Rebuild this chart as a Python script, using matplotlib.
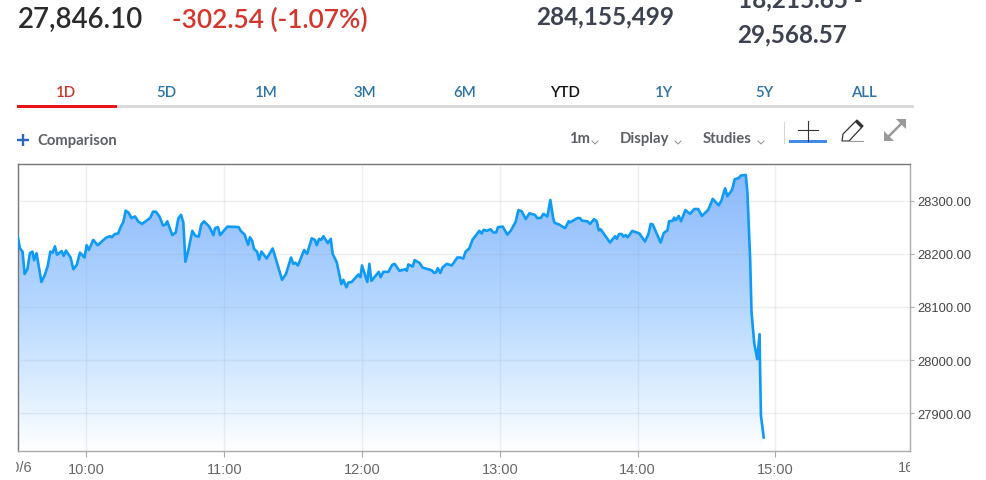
import matplotlib
matplotlib.use('Agg')
import matplotlib.pyplot as plt
import numpy as np
from matplotlib.colors import LinearSegmentedColormap
from matplotlib.patches import Polygon, Rectangle
from matplotlib.transforms import Bbox

# minutes after 09:30
minutes = [0, 1.1, 2.2, 3.1, 4.3, 5.4, 6.5, 7.2, 8.3, 10.4, 11.8, 13.1, 14.3, 15.3, 16.3, 17.2, 19.2, 20.1, 21.1, 23.1,
           24.3, 25.8, 27.2, 29.2, 30.1, 31.0, 33.0, 34.9, 38.5, 40.3, 41.1, 42.3, 43.8, 44.9, 46.1, 47.1, 48.4, 49.6,
           51.2, 52.5, 54.2, 57.7, 59.0, 60.3, 61.8, 63.4, 64.5, 65.2, 67.4, 68.9, 70.0, 71.2, 72.2, 73.1, 74.5, 76.1,
           77.4, 78.9, 80.0, 81.2, 83.5, 85.3, 86.0, 87.3, 88.2, 91.4, 96.3, 97.2, 98.9, 100.4, 101.2, 102.1, 103.0,
           104.3, 105.2, 106.2, 108.5, 111.1, 113.1, 115.2, 116.9, 119.1, 120.1, 121.0, 122.1, 124.8, 126.1, 128.1,
           129.5, 130.3, 131.3, 132.2, 133.2, 135.1, 136.4, 137.2, 139.0, 141.0, 141.9, 143.2, 144.1, 145.5, 148.4,
           149.3, 150.0, 152.3, 153.2, 154.1, 157.3, 158.1, 159.3, 161.5, 163.1, 164.2, 166.3, 168.9, 169.5, 170.2,
           172.1, 172.9, 175.0, 176.4, 180.3, 181.4, 182.2, 183.0, 184.1, 185.0, 186.9, 189.1, 191.5, 192.7, 194.1,
           195.1, 196.7, 198.2, 201.1, 202.1, 203.0, 204.4, 206.0, 207.2, 208.4, 209.2, 211.3, 213.3, 214.7, 216.9,
           218.1, 219.5, 221.3, 222.9, 225.3, 226.3, 227.8, 229.0, 230.7, 232.0, 233.3, 233.9, 235.8, 238.4, 240.0,
           240.6, 243.8, 244.9, 245.8, 248.1, 249.3, 251.0, 252.2, 253.1, 253.9, 258.0, 259.4, 260.2, 260.9, 261.9,
           263.1, 263.8, 264.8, 265.7, 267.7, 269.6, 270.8, 273.2, 274.7, 275.7, 276.6, 280.0, 281.4, 283.0, 283.7,
           285.3, 285.9, 286.6, 287.9, 288.9, 290.8, 292.8, 294.7, 296.4, 298.0, 300.8, 302.7, 305.3, 306.5, 308.1,
           309.1, 311.1, 312.3, 313.9, 315.0, 317.1, 317.8, 319.0, 319.6, 320.8, 322.1, 323.1, 323.3, 323.7, 324.9]
price = [28234, 28210, 28204, 28162, 28171, 28201, 28204, 28188, 28201, 28147, 28159, 28176, 28204, 28202, 28214, 28198,
         28205, 28196, 28206, 28193, 28171, 28179, 28202, 28193, 28216, 28207, 28226, 28216, 28230, 28233, 28231, 28237,
         28238, 28250, 28260, 28281, 28277, 28267, 28270, 28261, 28256, 28267, 28279, 28279, 28270, 28253, 28255, 28261,
         28235, 28240, 28266, 28273, 28259, 28185, 28209, 28243, 28234, 28232, 28255, 28261, 28251, 28235, 28248, 28250,
         28235, 28251, 28250, 28243, 28236, 28217, 28231, 28225, 28209, 28204, 28189, 28204, 28191, 28210, 28181, 28151,
         28162, 28193, 28181, 28183, 28178, 28207, 28200, 28229, 28226, 28216, 28228, 28226, 28233, 28220, 28228, 28200,
         28184, 28143, 28151, 28137, 28146, 28147, 28161, 28156, 28178, 28147, 28181, 28149, 28166, 28156, 28166, 28166,
         28179, 28181, 28168, 28171, 28168, 28180, 28176, 28188, 28183, 28174, 28169, 28164, 28165, 28173, 28164, 28174,
         28181, 28178, 28193, 28193, 28191, 28204, 28210, 28227, 28243, 28238, 28245, 28243, 28246, 28240, 28240, 28250,
         28251, 28236, 28243, 28260, 28282, 28280, 28265, 28276, 28273, 28267, 28267, 28275, 28270, 28301, 28265, 28258,
         28255, 28248, 28261, 28259, 28267, 28267, 28262, 28261, 28256, 28265, 28261, 28244, 28246, 28221, 28229, 28233,
         28228, 28237, 28237, 28232, 28235, 28231, 28243, 28240, 28238, 28223, 28237, 28256, 28255, 28221, 28239, 28244,
         28261, 28262, 28268, 28263, 28271, 28261, 28282, 28275, 28284, 28284, 28271, 28283, 28303, 28291, 28300, 28323,
         28308, 28320, 28340, 28342, 28347, 28348, 28315, 28190, 28090, 28031, 28002, 28049, 27990, 27896, 27855]

y_ticks = [27900, 28000, 28100, 28200, 28300]
x_ticks = [30, 90, 150, 210, 270, 330]
x_labels = ['10:00', '11:00', '12:00', '13:00', '14:00', '15:00']
tabs = ['1D', '5D', '1M', '3M', '6M', 'YTD', '1Y', '5Y', 'ALL']
tab_x = [66, 166, 266, 365, 465, 565, 664, 764, 864]

W, H = 986, 481
UI_FONT = 'Lato'
CHART_FONT = 'Liberation Sans'

fig = plt.figure(figsize=(W/100, H/100), dpi=100, facecolor='white')

# page furniture drawn in pixel coordinates
ui = fig.add_axes([0, 0, 1, 1], zorder=0)
ui.set_xlim(0, W)
ui.set_ylim(H, 0)
ui.axis('off')

ui.text(18, 28, '27,846.10', color='#2b2b2b', family=UI_FONT, fontsize=19.9, weight='semibold', va='baseline')
ui.text(172, 28, '-302.54 (-1.07%)', color='#d5352b', family=UI_FONT, fontsize=18.9, weight='semibold', va='baseline')
stat = dict(family=UI_FONT, fontsize=17.5, weight='bold', color='#3d4250', va='baseline')
ui.text(536.5, 24, '284,155,499', **stat)
ui.text(737.5, 7, '18,215.65 -', **stat)
ui.text(737.5, 42, '29,568.57', **stat)

for name, x in zip(tabs, tab_x):
    color = '#c9342f' if name == '1D' else ('#111111' if name == 'YTD' else '#2a72a8')
    ui.text(x, 93, name, color=color, family=UI_FONT, fontsize=10.8, weight='semibold', ha='center', va='center')
ui.add_patch(Rectangle((17, 106), 897, 3, color='#d9d9d9', lw=0))
ui.add_patch(Rectangle((17, 106), 100, 3, color='#e8141a', lw=0))

ui.plot([17, 29], [141, 141], color='#2a66c8', lw=1.7, solid_capstyle='butt')
ui.plot([23, 23], [135, 147], color='#2a66c8', lw=1.7, solid_capstyle='butt')
tool = dict(family=UI_FONT, fontsize=10.7, weight='bold', color='#5b5f66', va='center')
ui.text(37, 141, 'Comparison', **tool)
ui.text(569, 139, '1m', **tool)
ui.text(620, 139, 'Display', **tool)
ui.text(703, 139, 'Studies', **tool)
for x in [595, 678, 761]:
    ui.plot([x-3, x, x+3], [142, 145, 142], color='#8a8a8a', lw=0.7)

ui.plot([783.5, 783.5], [123, 144], color='#d5d5d5', lw=0.8)
ui.plot([798, 818], [131, 131], color='#333333', lw=0.8)
ui.plot([808, 808], [122, 142], color='#333333', lw=0.8)
ui.add_patch(Rectangle((789, 141), 38, 3, color='#3f8ae8', lw=0))
ui.add_patch(Polygon([[842, 142], [843, 135], [857, 121], [863, 127], [849, 142]], closed=True,
                     facecolor='white', edgecolor='#333333', lw=0.9))
ui.add_patch(Polygon([[855, 123], [857, 121], [863, 127], [861, 129]], closed=True, color='#333333', lw=0))
ui.plot([842, 863], [142, 142], color='#999999', lw=0.8)
ui.plot([888, 902], [138, 124], color='#999999', lw=1.8)
ui.add_patch(Polygon([[896, 120], [906, 120], [906, 130]], closed=True, color='#999999', lw=0))
ui.add_patch(Polygon([[884, 132], [884, 142], [894, 142]], closed=True, color='#999999', lw=0))

# the chart itself
left, right, top, bottom = 17.5, 910, 164.5, 451.5
ax = fig.add_axes([left/W, 1-bottom/H, (right-left)/W, (bottom-top)/H], zorder=1)
ax.patch.set_alpha(0)
x_max = 388.6
y_min, y_max = 27830.5, 28369.5

cmap = LinearSegmentedColormap.from_list('fill', [(0, '#ffffff'), (0.18, '#e2f1ff'), (0.5, '#b8d9ff'), (1, '#8bb9fd')])
grad = np.linspace(1, 0, 256).reshape(-1, 1)
im = ax.imshow(grad, cmap=cmap, aspect='auto', zorder=1, vmin=0, vmax=1,
               extent=[0, x_max, y_min, max(price)])
poly = ax.fill_between(minutes, price, y_min, facecolor='none', edgecolor='none')
im.set_clip_path(poly.get_paths()[0], transform=ax.transData)

ax.plot(minutes, price, color='#0f9af5', lw=1.9, zorder=4, solid_joinstyle='round')

ax.set_xlim(0, x_max)
ax.set_ylim(y_min, y_max)
ax.set_xticks(x_ticks)
ax.set_xticklabels(x_labels, family=CHART_FONT, fontsize=10.5, color='#666666')
ax.set_yticks(y_ticks)
ax.set_yticklabels(['%.2f' % v for v in y_ticks], family=CHART_FONT, fontsize=9.3, color='#444444')
ax.yaxis.tick_right()
ax.tick_params(axis='x', length=4, width=0.8, color='#aaaaaa', pad=4)
ax.tick_params(axis='y', length=3, width=0.8, color='#aaaaaa', pad=2)
ax.grid(True, color='#9aa6b5', alpha=0.18, lw=1)
ax.set_axisbelow(False)

ax.spines['left'].set_color('#777777')
ax.spines['top'].set_color('#777777')
ax.spines['right'].set_color('#aaaaaa')
ax.spines['bottom'].set_color('#aaaaaa')
for s in ax.spines.values():
    s.set_linewidth(1)

# date and 16:00 labels get cut off at the plot edges
clip = Bbox([[left-1.5, 0], [right, 40]])
label_y = y_min-(468-bottom)/(bottom-top)*(y_max-y_min)
for x, label in [(0.2, '10/6'), (391.3, '16:00')]:
    t = ax.text(x, label_y, label, family=CHART_FONT, fontsize=10.5, color='#666666', ha='center', va='center',
                clip_on=True)
    t.set_clip_box(clip)

fig.savefig('out.png', dpi=100)
